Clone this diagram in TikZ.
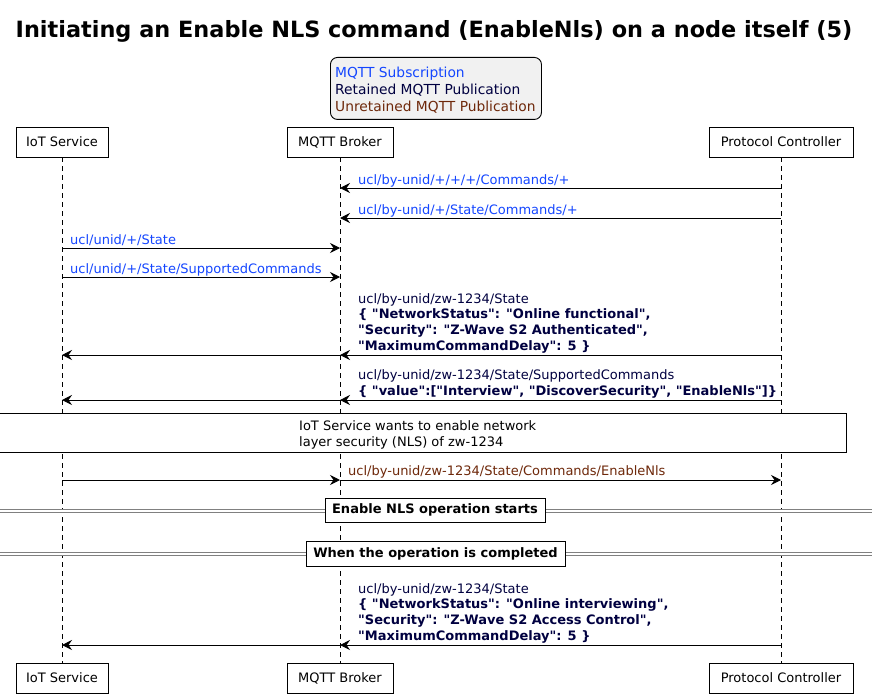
\documentclass[tikz,border=0pt]{standalone}
\usepackage{fontspec}
\setmainfont{DejaVu Sans}[Ligatures=TeXOff]
\usetikzlibrary{arrows.meta}
\definecolor{sub}{RGB}{20,70,255}
\definecolor{ret}{RGB}{0,0,64}
\definecolor{unret}{RGB}{110,40,10}
\definecolor{legbg}{RGB}{241,241,241}
\begin{document}
\begin{tikzpicture}[x=1pt,y=-1pt,
 txt/.style={font=\fontsize{13}{15.8}\selectfont, inner sep=0pt},
 part/.style={draw, line width=0.9pt, fill=white, minimum height=30pt, inner sep=0pt, font=\fontsize{13}{15.8}\selectfont},
 life/.style={line width=0.8pt, dash pattern=on 5pt off 4pt},
 msg/.style={line width=1pt, -{Stealth[length=10pt,width=10pt,inset=3.5pt]}},
 lbl/.style={txt, anchor=base west, align=left},
 divline/.style={draw=gray, line width=1pt, double=white, double distance=2pt},
 divbox/.style={draw, line width=0.9pt, fill=white, inner sep=0pt, font=\bfseries\fontsize{13}{15.8}\selectfont},
 notebox/.style={draw, line width=0.9pt, fill=white, inner sep=0pt},
]
\useasboundingbox (0,0) rectangle (872,698);
\fill[white] (0,0) rectangle (872,698);

% title
\node[font=\bfseries\fontsize{22.4}{26}\selectfont, anchor=base, inner sep=0pt] (title) at (434,38) {Initiating an Enable NLS command (EnableNls) on a node itself (5)};

% legend
\node[draw, rounded corners=7pt, fill=legbg, line width=0.9pt, anchor=north west,
  minimum width=211pt, minimum height=62pt, inner sep=0pt] (legend) at (330,57) {};
\node[anchor=base west, align=left, inner sep=0pt, font=\fontsize{13.8}{17}\selectfont] (legendtext) at (335,111.5)
  {\textcolor{sub}{MQTT Subscription}\\\textcolor{ret}{Retained MQTT Publication}\\\textcolor{unret}{Unretained MQTT Publication}};

% participants
\node[part, minimum width=92pt] (iot) at (62,142) {IoT Service};
\node[part, minimum width=106pt] (brk) at (340,142) {MQTT Broker};
\node[part, minimum width=144pt] (pc) at (781,142) {Protocol Controller};
\node[part, minimum width=92pt] (iotb) at (62,678) {IoT Service};
\node[part, minimum width=106pt] (brkb) at (340,678) {MQTT Broker};
\node[part, minimum width=144pt] (pcb) at (781,678) {Protocol Controller};

\draw[life] (iot) -- (iotb);
\draw[life] (brk) -- (brkb);
\draw[life] (pc) -- (pcb);

% messages
\draw[msg] (pc |- 0,188) -- (brk |- 0,188);
\node[lbl, text=sub] (l1) at (358,184) {ucl/by-unid/+/+/+/Commands/+};

\draw[msg] (pc |- 0,218) -- (brk |- 0,218);
\node[lbl, text=sub] (l2) at (358,214) {ucl/by-unid/+/State/Commands/+};

\draw[msg] (iot |- 0,248) -- (brk |- 0,248);
\node[lbl, text=sub] (l3) at (70,244) {ucl/unid/+/State};

\draw[msg] (iot |- 0,277) -- (brk |- 0,277);
\node[lbl, text=sub] (l4) at (70,273) {ucl/unid/+/State/SupportedCommands};

\draw[msg] (pc |- 0,355) -- (brk |- 0,355);
\draw[msg] (brk |- 0,355) -- (iot |- 0,355);
\node[lbl, text=ret] (l5) at (358,350.5) {ucl/by-unid/zw-1234/State\\
\textbf{\{ "NetworkStatus": "Online functional",}\\
\textbf{"Security": "Z-Wave S2 Authenticated",}\\
\textbf{"MaximumCommandDelay": 5 \}}};

\draw[msg] (pc |- 0,400) -- (brk |- 0,400);
\draw[msg] (brk |- 0,400) -- (iot |- 0,400);
\node[lbl, text=ret] (l6) at (358,395.5) {ucl/by-unid/zw-1234/State/SupportedCommands\\
\textbf{\{ "value":["Interview", "DiscoverSecurity", "EnableNls"]\}}};

% note
\node[notebox, minimum width=848pt, minimum height=39pt, anchor=north west] (note) at (-2,413) {};
\node[lbl] (notetext) at (299,446.5) {IoT Service wants to enable network\\layer security (NLS) of zw-1234};

\draw[msg] (iot |- 0,480) -- (brk |- 0,480);
\draw[msg] (brk |- 0,480) -- (pc |- 0,480);
\node[lbl, text=unret] (l7) at (348,475) {ucl/by-unid/zw-1234/State/Commands/EnableNls};

% dividers
\draw[divline] (0,511) -- (872,511);
\node[divbox, minimum width=220pt, minimum height=24pt] (d1) at (435,510) {Enable NLS operation starts};
\draw[divline] (0,554) -- (872,554);
\node[divbox, minimum width=259pt, minimum height=25pt] (d2) at (435.5,553.5) {When the operation is completed};

\draw[msg] (pc |- 0,645) -- (brk |- 0,645);
\draw[msg] (brk |- 0,645) -- (iot |- 0,645);
\node[lbl, text=ret] (l8) at (358,640.5) {ucl/by-unid/zw-1234/State\\
\textbf{\{ "NetworkStatus": "Online interviewing",}\\
\textbf{"Security": "Z-Wave S2 Access Control",}\\
\textbf{"MaximumCommandDelay": 5 \}}};
\end{tikzpicture}
\end{document}
